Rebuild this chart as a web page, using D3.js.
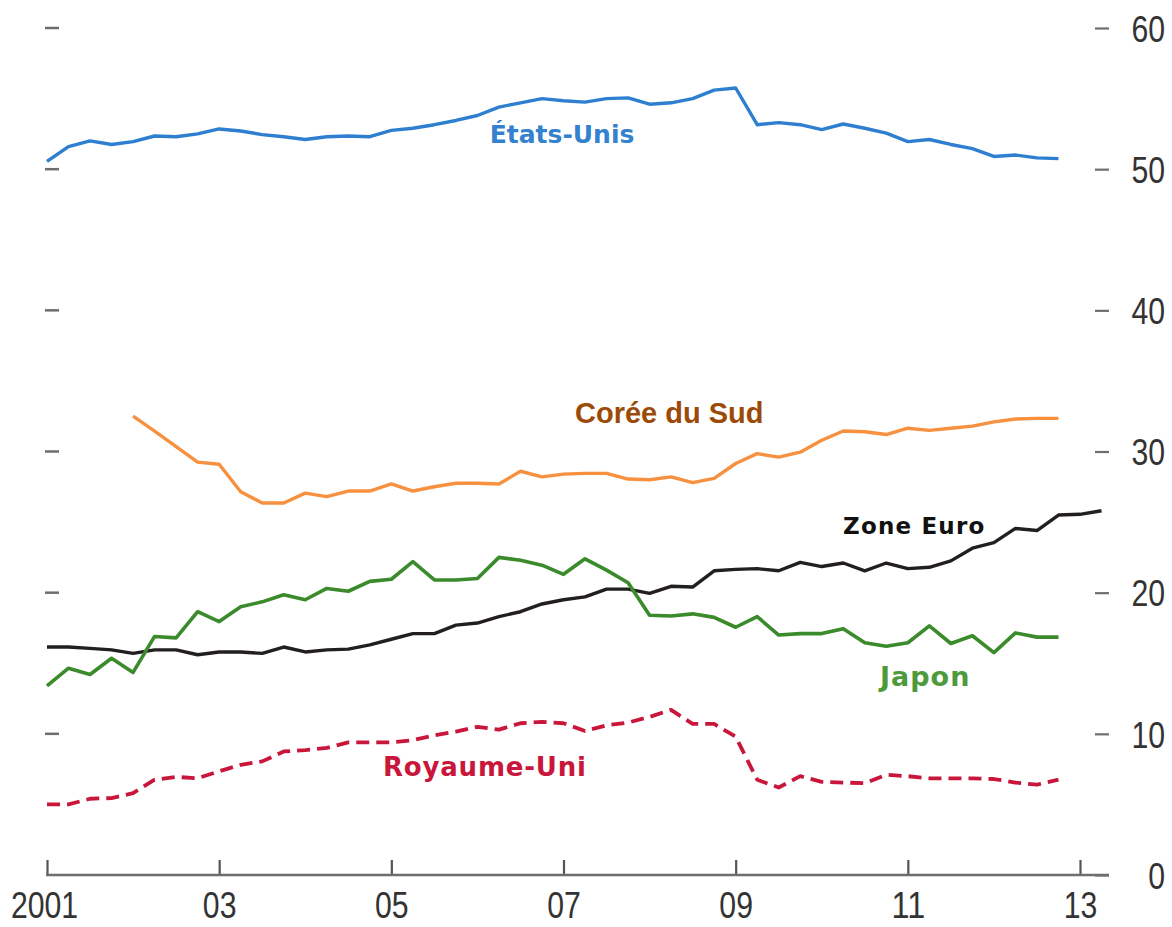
<!DOCTYPE html>
<html>
<head>
<meta charset="utf-8">
<script src="https://cdn.jsdelivr.net/npm/d3@7"></script>
<style>
  body { margin: 0; background: #fff; }
  .tick-label { font-family: "Liberation Sans Narrow", "Liberation Sans", Arial, sans-serif; fill: #333; }
  .series-label { font-family: "DejaVu Sans", Verdana, sans-serif; font-weight: bold; }
</style>
</head>
<body>
<svg id="chart" width="1172" height="927"></svg>
<script>
// quarterly data, 2001T1 onwards
const startYear = 2001;
const etatsUnis = [50.55, 51.6, 52.0, 51.75, 51.95, 52.35, 52.3, 52.5, 52.85, 52.7, 52.45, 52.3, 52.1, 52.3, 52.35, 52.3,
  52.75, 52.9, 53.15, 53.45, 53.8, 54.4, 54.7, 55.0, 54.85, 54.75, 55.0, 55.05, 54.6, 54.7, 55.0, 55.6,
  55.75, 53.15, 53.3, 53.15, 52.8, 53.2, 52.9, 52.55, 51.95, 52.1, 51.75, 51.45, 50.9, 51.0, 50.8, 50.75];
const coreeSud = [null, null, null, null, 32.5, 31.45, 30.35, 29.25, 29.1, 27.15, 26.35, 26.35, 27.05, 26.8, 27.2, 27.2,
  27.7, 27.2, 27.5, 27.75, 27.75, 27.7, 28.6, 28.2, 28.4, 28.45, 28.45, 28.05, 28.0, 28.2, 27.8, 28.1,
  29.15, 29.85, 29.6, 29.95, 30.8, 31.45, 31.4, 31.2, 31.65, 31.5, 31.65, 31.8, 32.1, 32.3, 32.35, 32.35];
const zoneEuro = [16.15, 16.15, 16.05, 15.95, 15.7, 15.95, 15.95, 15.6, 15.8, 15.8, 15.7, 16.15, 15.8, 15.95, 16.0, 16.3,
  16.7, 17.1, 17.1, 17.7, 17.85, 18.3, 18.65, 19.2, 19.5, 19.7, 20.25, 20.25, 19.95, 20.45, 20.4, 21.55,
  21.65, 21.7, 21.55, 22.15, 21.85, 22.1, 21.55, 22.1, 21.7, 21.8, 22.25, 23.15, 23.55, 24.55, 24.4, 25.5,
  25.55, 25.8];
const japon = [13.4, 14.65, 14.2, 15.35, 14.35, 16.9, 16.8, 18.65, 17.95, 19.0, 19.35, 19.85, 19.5, 20.3, 20.1, 20.8,
  20.95, 22.2, 20.9, 20.9, 21.0, 22.5, 22.3, 21.95, 21.3, 22.4, 21.6, 20.7, 18.4, 18.35, 18.5, 18.25,
  17.55, 18.3, 17.0, 17.1, 17.1, 17.45, 16.45, 16.2, 16.45, 17.65, 16.4, 16.95, 15.75, 17.15, 16.85, 16.85];
const royaumeUni = [5.0, 5.0, 5.4, 5.45, 5.8, 6.75, 6.95, 6.85, 7.35, 7.8, 8.05, 8.75, 8.85, 9.0, 9.4, 9.4,
  9.4, 9.55, 9.9, 10.15, 10.5, 10.3, 10.75, 10.85, 10.75, 10.2, 10.6, 10.8, 11.2, 11.7, 10.7, 10.7,
  9.8, 6.75, 6.2, 7.0, 6.6, 6.55, 6.5, 7.1, 7.0, 6.85, 6.85, 6.85, 6.8, 6.55, 6.4, 6.75];

const xTicks = [2001, 2003, 2005, 2007, 2009, 2011, 2013];
const xTickLabels = ["2001", "03", "05", "07", "09", "11", "13"];
const yTicks = [0, 10, 20, 30, 40, 50, 60];

const svg = d3.select('#chart');

const x = d3.scaleLinear().domain([2001, 2013]).range([47, 1080]);
const y = d3.scaleLinear().domain([0, 60]).range([875, 28]);

const digitW = 16.8; // condensed digit width

// series definitions
const series = [
  { name: "États-Unis", values: etatsUnis, color: "#2f7fd0", width: 3.4 },
  { name: "Corée du Sud", values: coreeSud, color: "#f7913f", width: 3.4 },
  { name: "Zone Euro", values: zoneEuro, color: "#231f20", width: 3.4 },
  { name: "Japon", values: japon, color: "#3b8a2b", width: 3.6 },
  { name: "Royaume-Uni", values: royaumeUni, color: "#c9173c", width: 3.8, dash: "13,7" }
];

// left-side small dashes
svg.append('g')
  .selectAll('line')
  .data(yTicks.filter(d => d > 0))
  .join('line')
  .attr('x1', 45).attr('x2', 59)
  .attr('y1', d => y(d)).attr('y2', d => y(d))
  .attr('stroke', '#6e6e6e')
  .attr('stroke-width', 2.5);

// right axis
const rightAxis = d3.axisRight(y)
  .tickValues(yTicks)
  .tickSize(0)
  .tickPadding(0)
  .tickFormat(d3.format('d'));

const ra = svg.append('g').attr('transform', 'translate(1109,0)').call(rightAxis);
ra.select('.domain').remove();
ra.selectAll('.tick').append('line')
  .attr('x1', -14).attr('x2', 0)
  .attr('stroke', '#6e6e6e').attr('stroke-width', 2.2);
ra.selectAll('.tick text')
  .attr('class', 'tick-label')
  .attr('x', 56)
  .attr('dy', '0.36em')
  .attr('text-anchor', 'end')
  .attr('font-size', 37)
  .attr('textLength', d => String(d).length * digitW)
  .attr('lengthAdjust', 'spacingAndGlyphs');

// bottom axis
const bottomAxis = d3.axisBottom(x)
  .tickValues(xTicks)
  .tickSize(0)
  .tickPadding(0)
  .tickFormat((d, i) => xTickLabels[i]);

const ba = svg.append('g').attr('transform', 'translate(0,875)').call(bottomAxis);
ba.select('.domain').remove();
ba.append('line')
  .attr('x1', 46).attr('x2', 1109)
  .attr('stroke', '#6e6e6e').attr('stroke-width', 2.4);
ba.selectAll('.tick').append('line')
  .attr('y1', 0).attr('y2', -15)
  .attr('stroke', '#555').attr('stroke-width', 2.2);
ba.selectAll('.tick text')
  .attr('class', 'tick-label')
  .attr('y', 43)
  .attr('dy', 0)
  .attr('font-size', 37)
  .attr('textLength', (d, i) => xTickLabels[i].length * digitW)
  .attr('lengthAdjust', 'spacingAndGlyphs');
ba.select('.tick text').attr('dx', -3);

// lines
const line = d3.line()
  .defined(d => d != null)
  .x((d, i) => x(startYear + i / 4))
  .y(d => y(d));

svg.append('g')
  .selectAll('path')
  .data(series)
  .join('path')
  .attr('fill', 'none')
  .attr('stroke', s => s.color)
  .attr('stroke-width', s => s.width)
  .attr('stroke-linejoin', 'round')
  .attr('stroke-dasharray', s => s.dash || null)
  .attr('d', s => line(s.values));

// annotations
const labels = [
  { text: "États-Unis", x: 562, y: 143, anchor: "middle", color: "#3381cf", size: 25 },
  { text: "Corée du Sud", x: 575, y: 423, anchor: "start", color: "#9b4a08", size: 29, family: "Liberation Sans, Arial, sans-serif" },
  { text: "Zone Euro", x: 843, y: 534, anchor: "start", color: "#111", size: 23, spacing: 1.2 },
  { text: "Japon", x: 880, y: 686, anchor: "start", color: "#4e9a3a", size: 27, spacing: 1 },
  { text: "Royaume-Uni", x: 383, y: 776, anchor: "start", color: "#c9173c", size: 26, spacing: 0.8 }
];

svg.append('g')
  .selectAll('text')
  .data(labels)
  .join('text')
  .attr('class', 'series-label')
  .attr('x', d => d.x)
  .attr('y', d => d.y)
  .attr('text-anchor', d => d.anchor)
  .attr('fill', d => d.color)
  .attr('font-size', d => d.size)
  .style('font-family', d => d.family || null)
  .style('letter-spacing', d => d.spacing ? d.spacing + 'px' : null)
  .text(d => d.text);
</script>
</body>
</html>
